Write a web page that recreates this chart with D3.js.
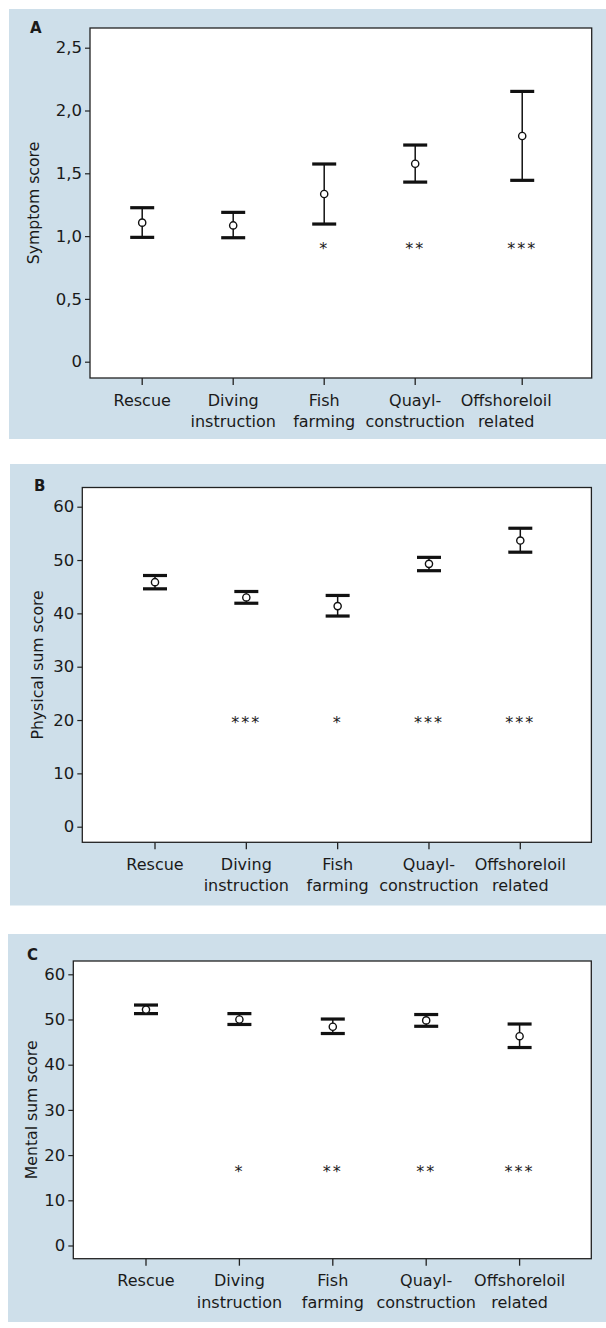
<!DOCTYPE html>
<html>
<head>
<meta charset="utf-8">
<script src="https://cdn.jsdelivr.net/npm/d3@7"></script>
<style>
  html, body { margin: 0; padding: 0; background: #ffffff; }
  svg { display: block; }
  text { font-family: "DejaVu Sans", "Liberation Sans", sans-serif; fill: #1a1a1a; }
</style>
</head>
<body>
<svg id="chart" width="606" height="1328"></svg>
<script>
// ---------- data ----------
const categoryLines = [
  ["Rescue"],
  ["Diving", "instruction"],
  ["Fish", "farming"],
  ["Quayl-", "construction"],
  ["Offshoreloil", "related"]
];

const symptomMean = [1.107, 1.085, 1.335, 1.576, 1.797];
const symptomLow  = [0.990, 0.987, 1.096, 1.430, 1.444];
const symptomHigh = [1.226, 1.189, 1.574, 1.725, 2.152];
const symptomStars = ["", "", "*", "**", "***"];
const symptomStarLevel = 0.93;
const symptomTicks = [0, 0.5, 1, 1.5, 2, 2.5];

const physicalMean = [45.85, 42.98, 41.36, 49.28, 53.65];
const physicalLow  = [44.6, 41.9, 39.5, 48.0, 51.47];
const physicalHigh = [47.1, 44.1, 43.36, 50.5, 55.96];
const physicalStars = ["", "***", "*", "***", "***"];
const physicalStarLevel = 20.3;

const mentalMean = [52.2, 50.0, 48.4, 49.8, 46.3];
const mentalLow  = [51.3, 48.9, 46.9, 48.5, 43.8];
const mentalHigh = [53.2, 51.3, 50.1, 51.1, 49.0];
const mentalStars = ["", "*", "**", "**", "***"];
const mentalStarLevel = 17.3;

const sumTicks = [0, 10, 20, 30, 40, 50, 60];

// ---------- formats ----------
const fmtDecimalComma = v => v === 0 ? "0" : d3.format(".1f")(v).replace(".", ",");
const fmtInt = d3.format("d");

// ---------- layout ----------
const panels = [
  {
    letter: "A", title: "Symptom score",
    mean: symptomMean, low: symptomLow, high: symptomHigh,
    stars: symptomStars, starLevel: symptomStarLevel, ticks: symptomTicks, fmt: fmtDecimalComma,
    bg: [9, 9, 606, 439],
    box: { left: 90, right: 591.7, top: 28, bottom: 378 },
    yDomain: [0, 2.5], yRange: [361.7, 47.7],
    xRange: [142.2, 506.2], slots: [0, 1, 2, 3, 4.176],
    letterPos: [30, 32.7], titleX: 38.7
  },
  {
    letter: "B", title: "Physical sum score",
    mean: physicalMean, low: physicalLow, high: physicalHigh,
    stars: physicalStars, starLevel: physicalStarLevel, ticks: sumTicks, fmt: fmtInt,
    bg: [10, 464, 606, 905.5],
    box: { left: 82.3, right: 591.4, top: 487.5, bottom: 842.3 },
    yDomain: [0, 60], yRange: [826.7, 506.7],
    xRange: [155, 520.3], slots: [0, 1, 2, 3, 4],
    letterPos: [34, 490.7], titleX: 42.7
  },
  {
    letter: "C", title: "Mental sum score",
    mean: mentalMean, low: mentalLow, high: mentalHigh,
    stars: mentalStars, starLevel: mentalStarLevel, ticks: sumTicks, fmt: fmtInt,
    bg: [8, 934, 606, 1322],
    box: { left: 73.3, right: 591.3, top: 961, bottom: 1258.7 },
    yDomain: [0, 60], yRange: [1245.5, 974.3],
    xRange: [146, 519.6], slots: [0, 1, 2, 3, 4],
    letterPos: [27, 960], titleX: 36.7
  }
];

const svg = d3.select("#chart");

panels.forEach(p => {
  const g = svg.append("g");
  const b = p.box;

  // panel background
  g.append("rect")
    .attr("x", p.bg[0]).attr("y", p.bg[1])
    .attr("width", p.bg[2] - p.bg[0]).attr("height", p.bg[3] - p.bg[1])
    .attr("fill", "#cedfea");

  // plot area
  g.append("rect")
    .attr("x", b.left).attr("y", b.top)
    .attr("width", b.right - b.left).attr("height", b.bottom - b.top)
    .attr("fill", "#ffffff").attr("stroke", "#222").attr("stroke-width", 1.3);

  const y = d3.scaleLinear().domain(p.yDomain).range(p.yRange);
  const x = d3.scaleLinear().domain([0, 4]).range(p.xRange);

  // y axis
  const yAxis = d3.axisLeft(y).tickValues(p.ticks).tickFormat(p.fmt).tickSize(5).tickPadding(3);
  const ya = g.append("g").attr("transform", `translate(${b.left},0)`).call(yAxis);
  ya.select(".domain").remove();
  ya.selectAll(".tick line").attr("stroke", "#222").attr("stroke-width", 1.2);
  ya.selectAll(".tick text").attr("font-size", 16.5).attr("font-family", "DejaVu Sans").attr("fill", "#1a1a1a");

  // x ticks (at mark positions)
  g.append("g").selectAll("line")
    .data(p.slots)
    .join("line")
    .attr("x1", d => x(d)).attr("x2", d => x(d))
    .attr("y1", b.bottom).attr("y2", b.bottom + 7)
    .attr("stroke", "#222").attr("stroke-width", 1.3);

  // x labels
  const lab = g.append("g").selectAll("text")
    .data(categoryLines)
    .join("text")
    .attr("text-anchor", "middle")
    .attr("font-size", 16)
    .attr("x", (d, i) => x(i))
    .attr("y", b.bottom + 27.5);
  lab.selectAll("tspan")
    .data(d => d)
    .join("tspan")
    .attr("x", function() { return d3.select(this.parentNode).attr("x"); })
    .attr("dy", (d, i) => i === 0 ? 0 : 21.5)
    .text(d => d);

  // y title
  g.append("text")
    .attr("transform", `translate(${p.titleX},${(b.top + b.bottom) / 2}) rotate(-90)`)
    .attr("text-anchor", "middle")
    .attr("font-size", 15.7)
    .text(p.title);

  // panel letter
  g.append("text")
    .attr("x", p.letterPos[0]).attr("y", p.letterPos[1])
    .attr("font-size", 15).attr("font-weight", "bold")
    .text(p.letter);

  // error bars
  const idx = d3.range(p.mean.length);
  const eb = g.append("g");
  eb.selectAll("line.v").data(idx).join("line").attr("class", "v")
    .attr("x1", i => x(p.slots[i])).attr("x2", i => x(p.slots[i]))
    .attr("y1", i => y(p.low[i])).attr("y2", i => y(p.high[i]))
    .attr("stroke", "#111").attr("stroke-width", 1.5);
  eb.selectAll("line.hi").data(idx).join("line").attr("class", "hi")
    .attr("x1", i => x(p.slots[i]) - 12).attr("x2", i => x(p.slots[i]) + 12)
    .attr("y1", i => y(p.high[i])).attr("y2", i => y(p.high[i]))
    .attr("stroke", "#111").attr("stroke-width", 3.2);
  eb.selectAll("line.lo").data(idx).join("line").attr("class", "lo")
    .attr("x1", i => x(p.slots[i]) - 12).attr("x2", i => x(p.slots[i]) + 12)
    .attr("y1", i => y(p.low[i])).attr("y2", i => y(p.low[i]))
    .attr("stroke", "#111").attr("stroke-width", 3.2);
  eb.selectAll("circle").data(idx).join("circle")
    .attr("cx", i => x(p.slots[i])).attr("cy", i => y(p.mean[i]))
    .attr("r", 3.6)
    .attr("fill", "#fff").attr("stroke", "#111").attr("stroke-width", 1.4);

  // significance stars
  g.append("g").selectAll("text")
    .data(idx.filter(i => p.stars[i]))
    .join("text")
    .attr("x", i => x(p.slots[i]))
    .attr("y", i => y(p.starLevel) + 9.4)
    .attr("text-anchor", "middle")
    .attr("font-size", 16)
    .attr("letter-spacing", 2)
    .text(i => p.stars[i]);
});
</script>
</body>
</html>
